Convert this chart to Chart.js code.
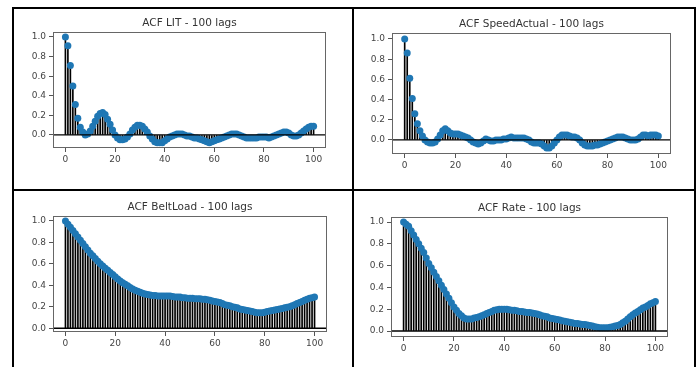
<!DOCTYPE html>
<html>
<head>
<meta charset="utf-8">
<script src="https://cdn.jsdelivr.net/npm/chart.js@4/dist/chart.umd.min.js"></script>
<style>
  html, body { margin: 0; padding: 0; background: #fff; }
  body { width: 700px; height: 367px; position: relative; overflow: hidden; font-family: "DejaVu Sans", sans-serif; }
  .line { position: absolute; background: #000; }
  canvas { position: absolute; }
</style>
</head>
<body>
<div class="line" style="left:12px;top:7px;width:684px;height:2px"></div>
<div class="line" style="left:12px;top:189px;width:684px;height:2px"></div>
<div class="line" style="left:12px;top:7px;width:2px;height:360px"></div>
<div class="line" style="left:352px;top:7px;width:2px;height:360px"></div>
<div class="line" style="left:694px;top:7px;width:2px;height:360px"></div>
<canvas id="c1"></canvas>
<canvas id="c2"></canvas>
<canvas id="c3"></canvas>
<canvas id="c4"></canvas>
<script>
// ----------------------------
// data
// ----------------------------
const lags = Array.from({length: 101}, (_, i) => i);
const xTicks = [0, 20, 40, 60, 80, 100];
const yTicks = [0, 0.2, 0.4, 0.6, 0.8, 1.0];

const acfLIT = [
  1.00, 0.91, 0.71, 0.50, 0.31, 0.17, 0.08, 0.03, 0.00, 0.01,
  0.04, 0.09, 0.14, 0.19, 0.22, 0.23, 0.21, 0.16, 0.11, 0.05,
  0.00, -0.03, -0.05, -0.05, -0.04, -0.02, 0.01, 0.05, 0.08, 0.10,
  0.10, 0.09, 0.06, 0.03, -0.01, -0.04, -0.07, -0.08, -0.08, -0.08,
  -0.06, -0.04, -0.02, -0.01, 0.00, 0.01, 0.01, 0.01, 0.00, -0.01,
  -0.01, -0.02, -0.03, -0.03, -0.04, -0.05, -0.06, -0.07, -0.08, -0.07,
  -0.06, -0.05, -0.04, -0.03, -0.02, -0.01, 0.00, 0.01, 0.01, 0.01,
  0.00, -0.01, -0.02, -0.03, -0.03, -0.03, -0.03, -0.03, -0.02, -0.02,
  -0.02, -0.02, -0.03, -0.02, -0.01, 0.00, 0.01, 0.02, 0.03, 0.03,
  0.02, 0.00, -0.01, -0.01, 0.00, 0.02, 0.04, 0.06, 0.08, 0.09,
  0.09
];
const acfSpeed = [
  1.00, 0.86, 0.61, 0.41, 0.26, 0.16, 0.09, 0.04, 0.00, -0.02,
  -0.03, -0.03, -0.02, 0.01, 0.05, 0.09, 0.11, 0.09, 0.07, 0.06,
  0.06, 0.06, 0.05, 0.04, 0.03, 0.02, 0.00, -0.02, -0.03, -0.04,
  -0.03, -0.01, 0.01, 0.00, -0.01, -0.01, 0.00, 0.00, 0.00, 0.01,
  0.01, 0.02, 0.03, 0.02, 0.02, 0.02, 0.02, 0.02, 0.01, 0.00,
  -0.02, -0.03, -0.03, -0.03, -0.04, -0.06, -0.08, -0.08, -0.06, -0.03,
  0.00, 0.03, 0.05, 0.05, 0.05, 0.04, 0.03, 0.03, 0.02, 0.00,
  -0.03, -0.05, -0.06, -0.06, -0.06, -0.05, -0.05, -0.04, -0.03, -0.02,
  -0.01, 0.00, 0.01, 0.02, 0.03, 0.03, 0.03, 0.02, 0.01, 0.00,
  0.00, 0.00, 0.01, 0.03, 0.05, 0.05, 0.04, 0.05, 0.05, 0.05,
  0.04
];
const acfBelt = [
  1.00, 0.97, 0.94, 0.91, 0.88, 0.85, 0.82, 0.79, 0.76, 0.73,
  0.70, 0.675, 0.65, 0.625, 0.60, 0.58, 0.56, 0.54, 0.52, 0.50,
  0.48, 0.46, 0.44, 0.425, 0.41, 0.395, 0.38, 0.365, 0.355, 0.345,
  0.335, 0.325, 0.32, 0.315, 0.31, 0.305, 0.305, 0.30, 0.30, 0.30,
  0.30, 0.30, 0.30, 0.295, 0.29, 0.29, 0.29, 0.285, 0.285, 0.28,
  0.28, 0.28, 0.275, 0.275, 0.275, 0.27, 0.27, 0.265, 0.26, 0.255,
  0.25, 0.245, 0.24, 0.23, 0.22, 0.215, 0.21, 0.20, 0.195, 0.19,
  0.18, 0.175, 0.17, 0.165, 0.16, 0.155, 0.15, 0.145, 0.145, 0.145,
  0.15, 0.155, 0.16, 0.165, 0.17, 0.175, 0.18, 0.185, 0.19, 0.195,
  0.20, 0.21, 0.22, 0.23, 0.24, 0.25, 0.26, 0.27, 0.28, 0.285,
  0.29
];
const acfRate = [
  1.00, 0.98, 0.96, 0.92, 0.88, 0.84, 0.80, 0.76, 0.72, 0.67,
  0.62, 0.58, 0.54, 0.50, 0.46, 0.42, 0.38, 0.34, 0.30, 0.26,
  0.22, 0.19, 0.16, 0.14, 0.12, 0.11, 0.11, 0.11, 0.12, 0.125,
  0.13, 0.14, 0.15, 0.16, 0.17, 0.18, 0.19, 0.195, 0.20, 0.20,
  0.20, 0.20, 0.195, 0.19, 0.19, 0.185, 0.18, 0.18, 0.175, 0.17,
  0.17, 0.165, 0.16, 0.155, 0.15, 0.14, 0.135, 0.13, 0.12, 0.115,
  0.11, 0.105, 0.10, 0.095, 0.09, 0.085, 0.08, 0.075, 0.07, 0.07,
  0.065, 0.06, 0.06, 0.055, 0.05, 0.045, 0.04, 0.035, 0.03, 0.03,
  0.03, 0.03, 0.035, 0.04, 0.045, 0.05, 0.06, 0.075, 0.09, 0.11,
  0.13, 0.15, 0.165, 0.18, 0.195, 0.21, 0.22, 0.235, 0.25, 0.26,
  0.27
];

// ----------------------------
// one ACF stem chart
// ----------------------------
const PAD_L = 40, PAD_T = 30, PAD_R = 15, PAD_B = 28;

// box around the plot area like matplotlib spines
const boxPlugin = {
  id: 'box',
  afterDraw(chart) {
    const a = chart.chartArea, ctx = chart.ctx;
    ctx.save();
    ctx.strokeStyle = '#666';
    ctx.lineWidth = 1;
    ctx.strokeRect(a.left + 0.5, a.top + 0.5, a.right - a.left - 1, a.bottom - a.top - 1);
    ctx.restore();
  }
};

function makeChart(id, title, vals, area, yMin, yMax) {
  const cv = document.getElementById(id);
  const w = area.w + PAD_L + PAD_R, h = area.h + PAD_T + PAD_B;
  cv.width = w; cv.height = h;
  cv.style.left = (area.x - PAD_L) + 'px';
  cv.style.top = (area.y - PAD_T) + 'px';
  cv.style.width = w + 'px';
  cv.style.height = h + 'px';

  new Chart(cv, {
    type: 'bar',
    data: {
      datasets: [
        {
          type: 'line',
          data: [{x: -5, y: 0}, {x: 105, y: 0}],
          borderColor: '#000',
          borderWidth: 1.3,
          pointRadius: 0,
          order: 0
        },
        {
          type: 'line',
          data: lags.map((l, i) => ({x: l, y: vals[i]})),
          showLine: false,
          pointRadius: 3.5,
          pointBorderWidth: 0,
          pointBackgroundColor: '#1f77b4',
          order: 1
        },
        {
          type: 'bar',
          data: lags.map((l, i) => ({x: l, y: [0, vals[i]]})),
          backgroundColor: '#000',
          barThickness: 1,
          order: 2
        }
      ]
    },
    options: {
      responsive: false,
      animation: false,
      events: [],
      layout: { padding: { left: 0, top: 0, right: PAD_R, bottom: 0 } },
      plugins: {
        legend: { display: false },
        tooltip: { enabled: false },
        title: {
          display: true,
          text: title,
          fullSize: false,
          color: '#333',
          font: { family: 'DejaVu Sans', size: 10.5, weight: 'normal', lineHeight: 1.2 },
          padding: { top: 15.2, bottom: 2.2 }
        }
      },
      scales: {
        x: {
          type: 'linear',
          min: -5, max: 105,
          offset: false,
          afterBuildTicks: s => { s.ticks = xTicks.map(v => ({value: v})); },
          afterFit: s => { s.height = PAD_B; },
          grid: { offset: false, drawOnChartArea: false, drawTicks: true, tickLength: 4, tickColor: '#555' },
          border: { display: false },
          ticks: { color: '#444', padding: 2, maxRotation: 0, font: { family: 'DejaVu Sans', size: 9 } }
        },
        y: {
          min: yMin, max: yMax,
          afterBuildTicks: s => { s.ticks = yTicks.map(v => ({value: v})); },
          afterFit: s => { s.width = PAD_L; },
          grid: { drawOnChartArea: false, drawTicks: true, tickLength: 4, tickColor: '#555' },
          border: { display: false },
          ticks: { color: '#444', padding: 3, callback: v => v.toFixed(1), font: { family: 'DejaVu Sans', size: 9 } }
        }
      }
    },
    plugins: [boxPlugin]
  });
}

makeChart('c1', 'ACF LIT - 100 lags', acfLIT, {x: 53, y: 32, w: 273, h: 116}, -0.133, 1.051);
makeChart('c2', 'ACF SpeedActual - 100 lags', acfSpeed, {x: 392, y: 33, w: 279, h: 121}, -0.139, 1.059);
makeChart('c3', 'ACF BeltLoad - 100 lags', acfBelt, {x: 53, y: 216, w: 274, h: 116}, -0.035, 1.046);
makeChart('c4', 'ACF Rate - 100 lags', acfRate, {x: 391, y: 217, w: 277, h: 120}, -0.055, 1.046);
</script>
</body>
</html>
